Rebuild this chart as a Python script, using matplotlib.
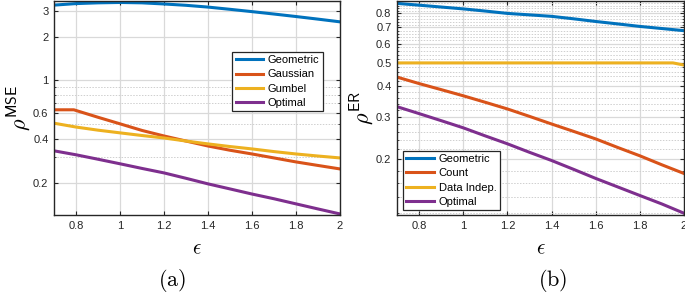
import numpy as np
import matplotlib
matplotlib.use("Agg")
import matplotlib.pyplot as plt
from matplotlib.ticker import FixedLocator, NullFormatter

plt.rcParams['mathtext.fontset'] = 'cm'
plt.rcParams['font.family'] = ['Liberation Sans', 'DejaVu Sans']

# ---------------- data (a) ----------------
eps = [0.7, 0.8, 0.9, 1.0, 1.1, 1.2, 1.3, 1.4, 1.5, 1.6, 1.7, 1.8, 1.9, 2.0]
mse_geometric = [3.28, 3.36, 3.40, 3.42, 3.40, 3.34, 3.27, 3.18, 3.07, 2.96, 2.85, 2.74, 2.63, 2.52]
eps_gauss = [0.7, 0.79, 0.9, 1.0, 1.1, 1.2, 1.3, 1.4, 1.5, 1.6, 1.7, 1.8, 1.9, 2.0]
mse_gaussian = [0.63, 0.63, 0.56, 0.505, 0.455, 0.417, 0.385, 0.356, 0.333, 0.314, 0.295, 0.277, 0.262, 0.248]
mse_gumbel = [0.51, 0.48, 0.457, 0.438, 0.42, 0.404, 0.385, 0.368, 0.353, 0.34, 0.326, 0.314, 0.304, 0.295]
mse_optimal = [0.33, 0.31, 0.289, 0.269, 0.25, 0.233, 0.214, 0.196, 0.181, 0.167, 0.155, 0.143, 0.132, 0.122]

# ---------------- data (b) ----------------
er_geometric = [0.88, 0.865, 0.85, 0.835, 0.818, 0.80, 0.789, 0.778, 0.76, 0.741, 0.724, 0.707, 0.693, 0.679]
er_count = [0.437, 0.411, 0.388, 0.366, 0.344, 0.323, 0.301, 0.28, 0.261, 0.243, 0.224, 0.207, 0.19, 0.175]
eps_indep = [0.7, 1.95, 2.0]
er_indep = [0.5, 0.5, 0.49]
er_optimal = [0.33, 0.309, 0.289, 0.27, 0.25, 0.232, 0.214, 0.198, 0.182, 0.167, 0.154, 0.142, 0.131, 0.12]

xticks = [0.8, 1, 1.2, 1.4, 1.6, 1.8, 2]
xticklabels = ['0.8', '1', '1.2', '1.4', '1.6', '1.8', '2']
yticks_a = [0.2, 0.4, 0.6, 1, 2, 3]
yticklabels_a = ['0.2', '0.4', '0.6', '1', '2', '3']
yminor_a = [0.3, 0.5, 0.7, 0.8, 0.9]
yticks_b = [0.2, 0.3, 0.4, 0.5, 0.6, 0.7, 0.8]
yticklabels_b = ['0.2', '0.3', '0.4', '0.5', '0.6', '0.7', '0.8']

C = ['#0072BD', '#D95319', '#EDB120', '#7E2F8E']
LW = 2.2
W, H = 685, 295

fig = plt.figure(figsize=(W / 100, H / 100), dpi=100)
axA = fig.add_axes([54 / W, (H - 215) / H, 286 / W, 214 / H])
axB = fig.add_axes([397 / W, (H - 215) / H, 287 / W, 214 / H])

def style(ax, yt, ytl, yminor, ylim):
    ax.set_yscale('log')
    ax.set_xlim(0.7, 2.0)
    ax.set_ylim(*ylim)
    ax.xaxis.set_major_locator(FixedLocator(xticks))
    ax.set_xticklabels(xticklabels)
    ax.yaxis.set_major_locator(FixedLocator(yt))
    ax.set_yticklabels(ytl)
    ax.yaxis.set_minor_locator(FixedLocator(yminor))
    ax.yaxis.set_minor_formatter(NullFormatter())
    ax.xaxis.set_minor_locator(FixedLocator([]))
    ax.tick_params(which='major', direction='in', length=3, width=0.8, labelsize=8,
                   colors='#262626', top=True, right=True, pad=4)
    ax.tick_params(which='minor', direction='in', length=1.5, width=0.6, right=True, colors='#262626')
    ax.grid(True, which='major', color='#d9d9d9', lw=0.9)
    ax.grid(True, which='minor', color='#cfcfcf', lw=0.7, ls=(0, (1.5, 1.5)))
    ax.set_axisbelow(True)
    for s in ax.spines.values():
        s.set_color('#262626')
        s.set_linewidth(1.0)
    ax.set_xlabel(r'$\epsilon$', fontsize=15, labelpad=6)

# (a)
axA.plot(eps, mse_geometric, color=C[0], lw=LW, label='Geometric')
axA.plot(eps_gauss, mse_gaussian, color=C[1], lw=LW, label='Gaussian')
axA.plot(eps, mse_gumbel, color=C[2], lw=LW, label='Gumbel')
axA.plot(eps, mse_optimal, color=C[3], lw=LW, label='Optimal')
style(axA, yticks_a, yticklabels_a, yminor_a, (0.12, 3.5))
axA.set_ylabel(r'$\rho^{\mathsf{MSE}}$', fontsize=16, labelpad=0)
legA = axA.legend(loc='upper right', bbox_to_anchor=(0.94, 0.762), fontsize=8,
                  handlelength=2.5, labelspacing=0.38, borderpad=0.3, handletextpad=0.4,
                  borderaxespad=0, fancybox=False, framealpha=1, edgecolor='#262626')
legA.get_frame().set_linewidth(0.9)

# (b)
yminor_b = [v for v in np.round(np.arange(0.12, 0.901, 0.02), 2) if v not in yticks_b]
axB.plot(eps, er_geometric, color=C[0], lw=LW, label='Geometric')
axB.plot(eps, er_count, color=C[1], lw=LW, label='Count')
axB.plot(eps_indep, er_indep, color=C[2], lw=LW, label='Data Indep.')
axB.plot(eps, er_optimal, color=C[3], lw=LW, label='Optimal')
style(axB, yticks_b, yticklabels_b, yminor_b, (0.118, 0.9))
axB.set_ylabel(r'$\rho^{\mathsf{ER}}$', fontsize=16, labelpad=0)
legB = axB.legend(loc='lower left', bbox_to_anchor=(0.021, 0.023), fontsize=8,
                  handlelength=2.5, labelspacing=0.38, borderpad=0.3, handletextpad=0.4,
                  borderaxespad=0, fancybox=False, framealpha=1, edgecolor='#262626')
legB.get_frame().set_linewidth(0.9)

fig.text(172 / W, 1 - 281 / H, r'$\mathrm{(a)}$', fontsize=16, ha='center', va='center')
fig.text(553 / W, 1 - 281 / H, r'$\mathrm{(b)}$', fontsize=16, ha='center', va='center')

fig.savefig('out.png', dpi=100)
